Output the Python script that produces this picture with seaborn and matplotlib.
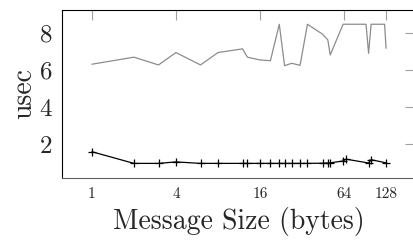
import numpy as np
import pandas as pd
import matplotlib
matplotlib.use("Agg")
import matplotlib.pyplot as plt
import seaborn as sns

# message sizes (bytes) and latencies (usec)
sizes_fast = [1, 2, 3, 4, 6, 8, 12, 13, 16, 19, 22, 24, 27, 31, 35, 45, 49, 51, 63, 66, 96, 100, 128]
usec_fast = [1.58, 0.95, 0.95, 1.03, 0.95, 0.95, 0.95, 0.95, 0.95, 0.95, 0.95, 0.95,
             0.95, 0.95, 0.95, 0.96, 0.97, 0.98, 1.08, 1.18, 0.97, 1.15, 0.98]

sizes_slow = [1, 2, 3, 4, 6, 8, 12, 13, 16, 19, 22, 24, 27, 31, 35, 45, 49, 51, 63, 66, 92, 96, 100, 125, 128]
usec_slow = [6.31, 6.69, 6.27, 6.94, 6.27, 6.94, 7.14, 6.69, 6.54, 6.50, 8.47, 6.23,
             6.36, 6.25, 8.47, 7.93, 7.62, 6.81, 8.47, 8.47, 8.47, 6.90, 8.47, 8.47, 7.17]

xticks = [1, 4, 16, 64, 128]
yticks = [2, 4, 6, 8]

df_fast = pd.DataFrame({"size": sizes_fast, "usec": usec_fast})
df_slow = pd.DataFrame({"size": sizes_slow, "usec": usec_slow})

sns.set_style("white")
plt.rcParams["font.family"] = "cmr10"
plt.rcParams["axes.formatter.use_mathtext"] = True

fig = plt.figure(figsize=(4.13, 2.41), dpi=100)
# right edge of the frame sits just past the image border, like the source
ax = fig.add_axes([0.150, 0.2614, 0.856, 0.6971])

sns.lineplot(data=df_slow, x="size", y="usec", ax=ax, color="#8c8c8c", lw=0.9)
sns.lineplot(data=df_fast, x="size", y="usec", ax=ax, color="black", lw=0.9,
             marker="+", markersize=5.5, markeredgewidth=0.9, markeredgecolor="black")

ax.set_xscale("log", base=2)
ax.set_xlim(0.61, 208)
ax.set_ylim(0.16, 9.24)
ax.set_xticks(xticks)
ax.set_xticklabels([str(t) for t in xticks], fontsize=11)
ax.set_yticks(yticks)
ax.set_yticklabels([str(t) for t in yticks], fontsize=18)
ax.minorticks_off()

ax.tick_params(axis="both", direction="in", length=7.5, width=0.8, color="#a0a0a0",
               top=True, right=True)
ax.tick_params(axis="x", pad=7)
ax.tick_params(axis="y", pad=7)

for s in ax.spines.values():
    s.set_color("black")
    s.set_linewidth(0.8)
ax.spines["bottom"].set_color("#606060")

ax.set_xlabel("Message Size (bytes)", fontsize=20, labelpad=4)
ax.set_ylabel("usec", fontsize=20, labelpad=2)

fig.savefig("out.png", dpi=100)
